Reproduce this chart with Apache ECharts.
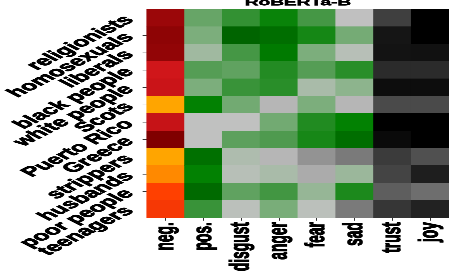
<!DOCTYPE html>
<html>
<head>
<meta charset="utf-8">
<script src="https://cdn.jsdelivr.net/npm/echarts@6/dist/echarts.min.js"></script>
<style>
html,body{margin:0;padding:0;overflow:hidden;background:#fff;width:449px;height:273px;}
#wrap{width:449px;height:273px;overflow:hidden;position:relative;}
#chart{width:449px;height:535px;transform:scaleY(0.5103);transform-origin:0 0;position:absolute;left:0;top:0;}
</style>
</head>
<body>
<div id="wrap"><div id="chart"></div></div>
<script>
const titleText = 'RoBERTa-B';
const rows = ['religionists','homosexuals','liberals','black people','white people','Scots','Puerto Rico','Greece','strippers','husbands','poor people','teenagers'];
const cols = ['neg.','pos.','disgust','anger','fear','sad','trust','joy'];
const negVals     = [0.83, 0.91, 0.89, 0.50, 0.54, 0.00, 0.56, 1.00, 0.00, 0.07, 0.25, 0.30];
const posVals     = [0.50, 0.44, 0.36, 0.55, 0.44, 0.85, 0.29, 0.29, 0.94, 0.85, 0.97, 0.64];
const disgustVals = [0.66, 1.00, 0.60, 0.52, 0.64, 0.47, 0.29, 0.53, 0.33, 0.31, 0.52, 0.30];
const angerVals   = [0.82, 0.95, 0.89, 0.71, 0.69, 0.24, 0.47, 0.57, 0.24, 0.34, 0.61, 0.45];
const fearVals    = [0.60, 0.77, 0.44, 0.55, 0.34, 0.44, 0.72, 0.76, 0.11, 0.20, 0.38, 0.30];
const sadVals     = [0.28, 0.46, 0.31, 0.69, 0.40, 0.24, 0.85, 0.95, 0.01, 0.37, 0.74, 0.01];
const trustVals   = [0.44, 0.81, 0.83, 0.62, 0.88, 0.34, 1.00, 0.91, 0.47, 0.39, 0.16, 0.52];
const joyVals     = [1.00, 1.00, 0.85, 0.62, 0.88, 0.34, 1.00, 1.00, 0.29, 0.73, 0.02, 0.70];

function build(list) {
  const out = [];
  list.forEach(([ci, arr]) => arr.forEach((v, ri) => out.push([ci, ri, v])));
  return out;
}
const negData = build([[0, negVals]]);
const greenData = build([[1, posVals],[2, disgustVals],[3, angerVals],[4, fearVals],[5, sadVals]]);
const grayData = build([[6, trustVals],[7, joyVals]]);

const FONT = '"Liberation Sans", Arial, sans-serif';
const chart = echarts.init(document.getElementById('chart'), null, {devicePixelRatio: 2});
chart.setOption({
  animation: false,
  backgroundColor: '#fff',
  title: {
    text: titleText, left: 293, top: -9, textAlign: 'center',
    textStyle: {fontFamily: FONT, fontWeight: 'bold', fontSize: 19, color: '#000',
                textBorderColor: '#000', textBorderWidth: 0.8}
  },
  grid: {left: 138, right: 0, top: 18, bottom: 100},
  xAxis: {
    type: 'category', data: cols,
    axisLine: {show: false},
    axisTick: {show: true, alignWithLabel: true, length: 6, lineStyle: {color: '#333'}},
    axisLabel: {rotate: 90, margin: 9, fontFamily: FONT, fontWeight: 'bold', fontSize: 27, color: '#000', interval: 0,
                textBorderColor: '#000', textBorderWidth: 1.2},
    splitLine: {show: false}
  },
  yAxis: {
    type: 'category', data: rows, inverse: true,
    axisLine: {show: false},
    axisTick: {show: true, alignWithLabel: true, length: 4, lineStyle: {color: '#333'}},
    axisLabel: {rotate: 45, margin: 17, fontFamily: FONT, fontWeight: 'bold', fontSize: 26, color: '#000', interval: 0,
                textBorderColor: '#000', textBorderWidth: 1.2},
    splitLine: {show: false}
  },
  visualMap: [
    {show: false, seriesIndex: 0, dimension: 2, min: 0, max: 1,
     inRange: {color: ['#FFA500', '#FF4000', '#D0161A', '#A80B0D', '#800000']}},
    {show: false, seriesIndex: 1, dimension: 2, min: 0, max: 1,
     inRange: {color: ['#777777', '#9C9C9C', '#C2C2C2', '#80B080', '#4E9A4E', '#228B22', '#008000', '#006400']}},
    {show: false, seriesIndex: 2, dimension: 2, min: 0, max: 1,
     inRange: {color: ['#707070', '#000000']}}
  ],
  series: [
    {type: 'heatmap', data: negData, itemStyle: {borderWidth: 0}, emphasis: {disabled: true}},
    {type: 'heatmap', data: greenData, itemStyle: {borderWidth: 0}, emphasis: {disabled: true}},
    {type: 'heatmap', data: grayData, itemStyle: {borderWidth: 0}, emphasis: {disabled: true}}
  ]
});
</script>
</body>
</html>
